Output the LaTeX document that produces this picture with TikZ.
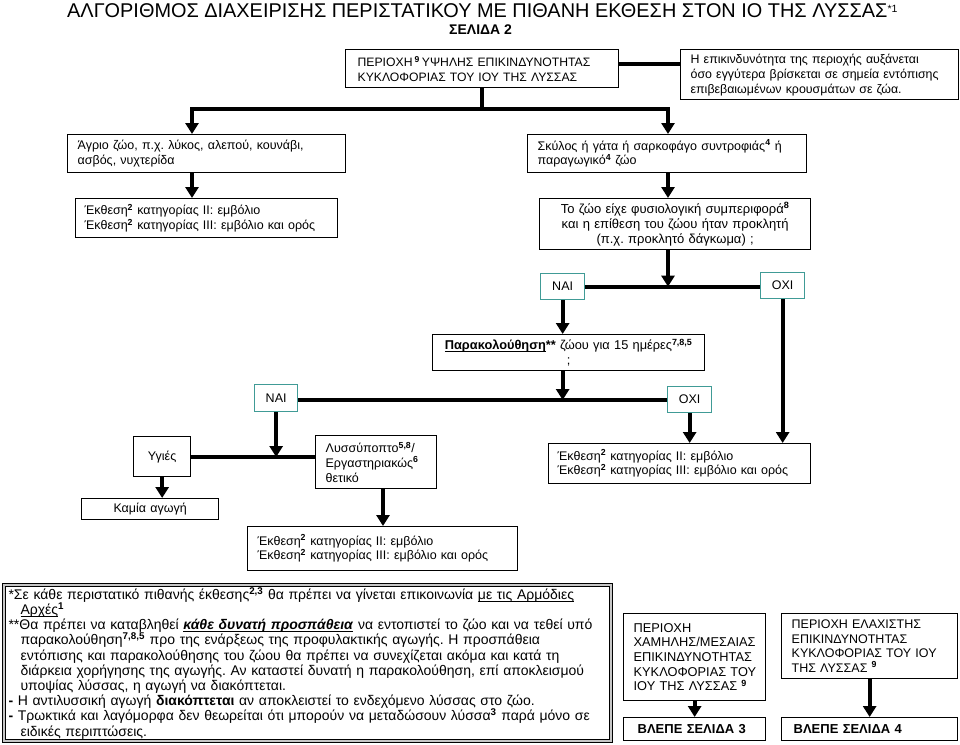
\documentclass[tikz,border=0pt]{standalone}
\usepackage{fontspec}
\setmainfont{Liberation Sans}
\usetikzlibrary{arrows.meta}
\definecolor{tealb}{RGB}{64,155,150}
\newcommand{\sx}[1]{\textsuperscript{\bfseries #1}}
\newsavebox{\ulbox}
\newcommand{\ulx}[1]{\sbox{\ulbox}{#1}\rlap{\rule[-2.3pt]{\wd\ulbox}{0.8pt}}\usebox{\ulbox}}
\newcommand{\dfont}{\fontsize{12.5}{14.8}\selectfont\lineskiplimit=-20pt}
\newcommand{\nfont}{\fontsize{14}{15.2}\selectfont\lineskiplimit=-20pt}
\frenchspacing
\begin{document}
\frenchspacing
\begin{tikzpicture}[x=1pt,y=-1pt,
 bx/.style={draw, line width=1.3pt, font=\dfont, inner xsep=10pt, inner ysep=1pt, align=left, anchor=north west},
 bxc/.style={bx, align=center},
 yn/.style={draw=tealb, line width=1.3pt, font=\dfont, inner sep=0pt, anchor=north west, minimum width=44pt, minimum height=26pt},
 conn/.style={line width=4pt},
 arr/.style={line width=4pt, -{Triangle[width=13pt,length=11pt]}},
]
\useasboundingbox (0,0) rectangle (960,744);

% title
\node[anchor=base west, inner sep=0pt, font=\fontsize{19.9}{24}\selectfont] (title) at (67,17.5) {ΑΛΓΟΡΙΘΜΟΣ ΔΙΑΧΕΙΡΙΣΗΣ ΠΕΡΙΣΤΑΤΙΚΟΥ ΜΕ ΠΙΘΑΝΗ ΕΚΘΕΣΗ ΣΤΟΝ ΙΟ ΤΗΣ ΛΥΣΣΑΣ{\fontsize{15}{15}\selectfont\textsuperscript{*1}}};
\node[anchor=base west, inner sep=0pt, font=\bfseries\fontsize{14}{16}\selectfont] (page) at (449,34) {ΣΕΛΙΔΑ 2};

% boxes
\node[bx, inner xsep=12pt, text width=249pt, minimum height=38pt, font=\fontsize{12.2}{14.6}\selectfont] (high) at (345,49) {\mbox{ΠΕΡΙΟΧΗ\,\sx{9}\,ΥΨΗΛΗΣ ΕΠΙΚΙΝΔΥΝΟΤΗΤΑΣ}\\ΚΥΚΛΟΦΟΡΙΑΣ ΤΟΥ ΙΟΥ ΤΗΣ ΛΥΣΣΑΣ};
\node[bx, text width=258pt, minimum height=50pt, font=\fontsize{12.4}{15}\selectfont] (risk) at (680,49) {\mbox{Η επικινδυνότητα της περιοχής αυξάνεται}\\\mbox{όσο εγγύτερα βρίσκεται σε σημεία εντόπισης}\\επιβεβαιωμένων κρουσμάτων σε ζώα.};
\node[bx, text width=258pt, minimum height=38pt] (wild) at (67,134) {\mbox{Άγριο ζώο, π.χ. λύκος, αλεπού, κουνάβι,}\\ασβός, νυχτερίδα};
\node[bx, text width=259pt, minimum height=38pt] (pet) at (527,134) {\mbox{Σκύλος ή γάτα ή σαρκοφάγο συντροφιάς\sx{4} ή}\\παραγωγικό\sx{4} ζώο};
\node[bx, inner xsep=9pt, text width=244pt, minimum height=39pt] (expo1) at (75,198) {Έκθεση\sx{2} κατηγορίας II: εμβόλιο\\\mbox{Έκθεση\sx{2} κατηγορίας III: εμβόλιο και ορός}};
\node[bxc, text width=251pt, minimum height=51pt, font=\fontsize{13}{15}\selectfont] (behav) at (539,198) {\mbox{Το ζώο είχε φυσιολογική συμπεριφορά\sx{8}}\\\mbox{και η επίθεση του ζώου ήταν προκλητή}\\(π.χ. προκλητό δάγκωμα) ;};
\node[yn] (nai1) at (540,273) {ΝΑΙ};
\node[yn] (oxi1) at (760,272) {ΟΧΙ};
\node[bxc, text width=252pt, minimum height=36pt, font=\fontsize{12.8}{14.8}\selectfont] (monitor) at (432,334) {\mbox{\ulx{\textbf{Παρακολούθηση}}\textbf{**} ζώου για 15 ημέρες\sx{7,8,5}}\\;};
\node[yn, minimum width=43pt, minimum height=27pt] (nai2) at (254,384) {ΝΑΙ};
\node[yn] (oxi2) at (667,386) {ΟΧΙ};
\node[bxc, text width=37pt, minimum height=40pt] (healthy) at (133,436) {Υγιές\\[3pt]};
\node[bx, text width=101pt, minimum height=53pt] (suspect) at (315,435) {Λυσσύποπτο\sx{5,8}/\\Εργαστηριακώς\sx{6}\\θετικό};
\node[bx, inner xsep=9pt, text width=244pt, minimum height=40pt] (expo2) at (548,443) {Έκθεση\sx{2} κατηγορίας II: εμβόλιο\\\mbox{Έκθεση\sx{2} κατηγορίας III: εμβόλιο και ορός}};
\node[bxc, text width=117pt, minimum height=21pt] (none) at (81,498) {Καμία αγωγή};
\node[bx, text width=250pt, minimum height=44pt] (expo3) at (247,526) {Έκθεση\sx{2} κατηγορίας II: εμβόλιο\\\mbox{Έκθεση\sx{2} κατηγορίας III: εμβόλιο και ορός}};
\node[bx, text width=122pt, minimum height=87pt, font=\fontsize{12.8}{14.6}\selectfont] (low) at (623,613) {ΠΕΡΙΟΧΗ\\\mbox{ΧΑΜΗΛΗΣ/ΜΕΣΑΙΑΣ}\\\mbox{ΕΠΙΚΙΝΔΥΝΟΤΗΤΑΣ}\\\mbox{ΚΥΚΛΟΦΟΡΙΑΣ ΤΟΥ}\\ΙΟΥ ΤΗΣ ΛΥΣΣΑΣ \sx{9}\\[2pt]};
\node[bx, text width=156pt, minimum height=65pt, font=\fontsize{12.5}{14.4}\selectfont] (least) at (781,613) {ΠΕΡΙΟΧΗ ΕΛΑΧΙΣΤΗΣ\\ΕΠΙΚΙΝΔΥΝΟΤΗΤΑΣ\\\mbox{ΚΥΚΛΟΦΟΡΙΑΣ ΤΟΥ ΙΟΥ}\\ΤΗΣ ΛΥΣΣΑΣ \sx{9}};
\node[bx, inner xsep=14pt, text width=114pt, minimum height=23pt, font=\bfseries\fontsize{13}{15}\selectfont] (page3) at (623,717) {\mbox{ΒΛΕΠΕ ΣΕΛΙΔΑ 3}};
\node[bx, inner xsep=12pt, text width=152pt, minimum height=23pt, font=\bfseries\fontsize{13}{15}\selectfont] (page4) at (781,717) {\mbox{ΒΛΕΠΕ ΣΕΛΙΔΑ 4}};

% note box
\node[draw, line width=1.1pt, double=gray!45, double distance=2.2pt, anchor=north west, inner xsep=4.5pt, inner ysep=0pt, text width=598pt, minimum height=156pt, align=left, font=\nfont] (note) at (3.5,584.5) {%
\mbox{*Σε κάθε περιστατικό πιθανής έκθεσης\sx{2,3} θα πρέπει να γίνεται επικοινωνία \ulx{με τις Αρμόδιες}}\\
\hspace*{12pt}\ulx{Αρχές}\sx{1}\\
\mbox{**Θα πρέπει να καταβληθεί \ulx{\textbf{\textit{κάθε δυνατή προσπάθεια}}} να εντοπιστεί το ζώο και να τεθεί υπό}\\
\mbox{\hspace*{12pt}παρακολούθηση\sx{7,8,5} προ της ενάρξεως της προφυλακτικής αγωγής. Η προσπάθεια}\\
\mbox{\hspace*{12pt}εντόπισης και παρακολούθησης του ζώου θα πρέπει να συνεχίζεται ακόμα και κατά τη}\\
\mbox{\hspace*{12pt}διάρκεια χορήγησης της αγωγής. Αν καταστεί δυνατή η παρακολούθηση, επί αποκλεισμού}\\
\hspace*{12pt}υποψίας λύσσας, η αγωγή να διακόπτεται.\\
\mbox{\textbf{-} Η αντιλυσσική αγωγή \textbf{διακόπτεται} αν αποκλειστεί το ενδεχόμενο λύσσας στο ζώο.}\\
\mbox{\textbf{-} Τρωκτικά και λαγόμορφα δεν θεωρείται ότι μπορούν να μεταδώσουν λύσσα\sx{3} παρά μόνο σε}\\
\hspace*{12pt}ειδικές περιπτώσεις.};

% connectors
\coordinate (hy) at (0,64);
\coordinate (jl) at (192,109);
\coordinate (jr) at (668,109);
\coordinate (j2) at (563,400);
\coordinate (j3) at (275,457);
\coordinate (j4) at (383,0);
\draw[conn] (high.east |- hy) -- (risk.west |- hy);
\draw[conn] (high.south) -- (high.south |- jl);
\draw[conn, line cap=rect] (jl) -- (jr);
\draw[arr] (jl) -- (jl |- wild.north);
\draw[arr] (jr) -- (jr |- pet.north);
\draw[arr] (jl |- wild.south) -- (jl |- expo1.north);
\draw[arr] (jr |- pet.south) -- (jr |- behav.north);
\draw[conn] (nai1.east) -- (nai1.east -| oxi1.west);
\draw[arr] (jr |- behav.south) -- (jr |- nai1.east);
\draw[arr] (nai1.south) -- (nai1.south |- monitor.north);
\draw[arr] (oxi1.south) -- (oxi1.south |- expo2.north);
\draw[arr] (nai1.south |- monitor.south) -- (nai1.south |- j2);
\draw[conn] (nai2.east |- j2) -- (oxi2.west |- j2);
\draw[arr] (nai2.south) -- (nai2.south |- j3);
\draw[conn] (healthy.east |- j3) -- (suspect.west |- j3);
\draw[arr] (oxi2.south) -- (oxi2.south |- expo2.north);
\draw[arr] (healthy.south) -- (healthy.south |- none.north);
\draw[arr] (j4 |- suspect.south) -- (j4 |- expo3.north);
\draw[arr] (low.south) -- (low.south |- page3.north);
\draw[arr] (least.south) -- (least.south |- page4.north);
\end{tikzpicture}
\end{document}
